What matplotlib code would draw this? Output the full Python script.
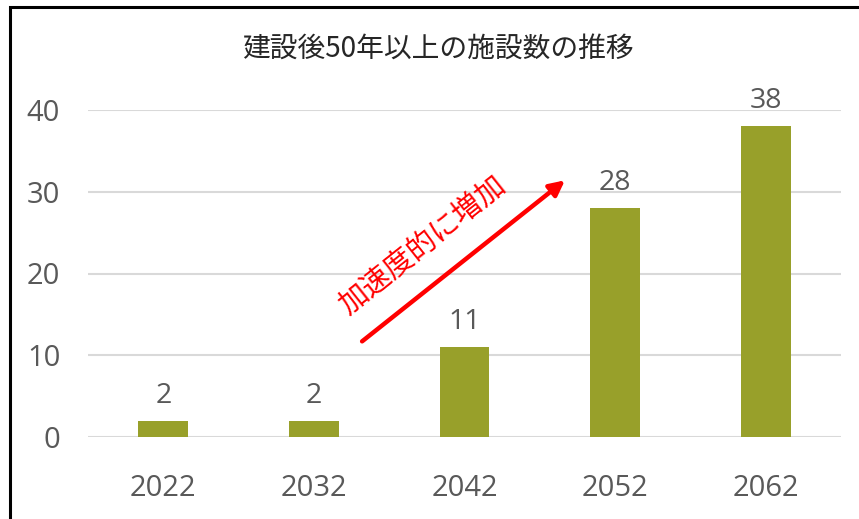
import matplotlib.pyplot as plt
from matplotlib.patches import Rectangle

years = ['2022', '2032', '2042', '2052', '2062']
counts = [2, 2, 11, 28, 38]
y_ticks = [0, 10, 20, 30, 40]

title = '建設後50年以上の施設数の推移'
note = '加速度的に増加'

bar_color = '#98A02A'
text_gray = '#595959'
grid_gray = '#D9D9D9'

plt.rcParams['font.family'] = ['Open Sans', 'Noto Sans CJK JP', 'DejaVu Sans']

fig = plt.figure(figsize=(8.59, 5.19), dpi=100)
ax = fig.add_axes([88 / 859, 82 / 519, 753 / 859, 327 / 519])

x = range(len(years))
bars = ax.bar(x, counts, width=0.33, color=bar_color, zorder=3)

for xi, v in zip(x, counts):
    ax.annotate(str(v), (xi, v), xytext=(0, 8), textcoords='offset points',
                ha='center', va='bottom', fontsize=20.5, color=text_gray)

ax.set_xlim(-0.5, len(years) - 0.5)
ax.set_ylim(0, 40)
ax.set_yticks(y_ticks)
ax.set_xticks(list(x))
ax.set_xticklabels(years)
ax.tick_params(axis='both', length=0, labelsize=21, labelcolor=text_gray)
ax.tick_params(axis='y', pad=20)
ax.tick_params(axis='x', pad=27)
ax.grid(axis='y', color=grid_gray, linewidth=1.5, zorder=0)
for s in ax.spines.values():
    s.set_visible(False)

# red arrow + rotated note
ax.annotate('', xy=(2.667, 31.4), xytext=(1.32, 11.7),
            arrowprops=dict(arrowstyle='-|>,head_length=0.9,head_width=0.45',
                            color='red', lw=3.2, shrinkA=0, shrinkB=0))
ax.text(1.72, 23.4, note, color='red', fontsize=21, rotation=38.5,
        rotation_mode='anchor', ha='center', va='center',
        family=['Noto Sans CJK JP', 'DejaVu Sans'])

fig.text(438 / 859, 1 - 49 / 519, title, ha='center', va='center',
         fontsize=20, color='#262626', family=['Noto Sans CJK JP', 'DejaVu Sans'])

# outer frame (cut off on right and bottom)
fig.add_artist(Rectangle((10 / 859, -0.05), 1.0, 1 - 6.5 / 519 + 0.05,
                         transform=fig.transFigure, fill=False,
                         edgecolor='black', linewidth=2.2))

fig.savefig('out.png', dpi=100)
